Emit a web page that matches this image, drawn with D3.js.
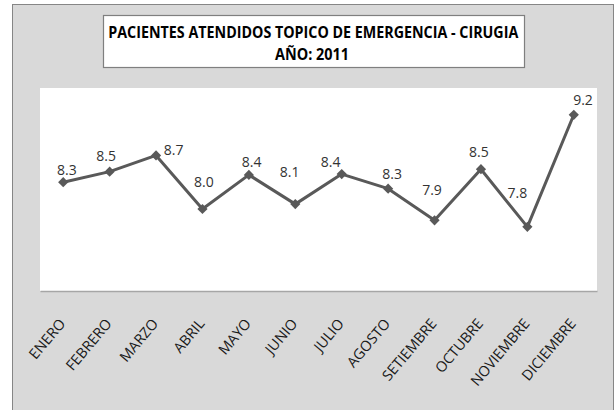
<!DOCTYPE html>
<html>
<head>
<meta charset="utf-8">
<script src="https://cdn.jsdelivr.net/npm/d3@7"></script>
<style>
  html, body { margin: 0; padding: 0; background: #ffffff; }
  svg { display: block; }
</style>
</head>
<body>
<svg id="chart" width="616" height="410"></svg>
<script>
// ---- data ----
const months = ["ENERO", "FEBRERO", "MARZO", "ABRIL", "MAYO", "JUNIO", "JULIO",
                "AGOSTO", "SETIEMBRE", "OCTUBRE", "NOVIEMBRE", "DICIEMBRE"];
const values = [8.34, 8.47, 8.67, 8.01, 8.43, 8.07, 8.44, 8.26, 7.87, 8.50, 7.79, 9.17];
const titleLines = ["PACIENTES ATENDIDOS TOPICO DE EMERGENCIA - CIRUGIA", "AÑO: 2011"];
const yDomain = [7, 9.5];

// ---- layout (label nudges, as placed in the original) ----
const labelDx = [3.6, -3.5, 17.6, 1.4, 2.7, -5.7, -11, 4, -2.5, -2, -10, 9.2];
const labelDy = [-7.3, -11, 0, -21.7, -7.7, -26.7, -7.3, -10, -25.7, -12.3, -28.4, -10];

const svg = d3.select("#chart");
const plot = { left: 40, right: 597, top: 88, bottom: 291 };

// outer chart area
svg.append("rect")
  .attr("x", 12.5).attr("y", 4.5)
  .attr("width", 601).attr("height", 430)
  .attr("fill", "#d9d9d9")
  .attr("stroke", "#868686").attr("stroke-width", 1);

// title box
svg.append("rect")
  .attr("x", 103.5).attr("y", 15.5)
  .attr("width", 421).attr("height", 52)
  .attr("fill", "#ffffff")
  .attr("stroke", "#7f7f7f").attr("stroke-width", 1.2);

const titleFont = "'Liberation Sans Narrow', 'Open Sans', sans-serif";
svg.append("text")
  .attr("x", 313.3).attr("y", 37.5)
  .attr("text-anchor", "middle")
  .attr("font-family", titleFont)
  .attr("font-weight", "bold")
  .attr("font-size", 16.5)
  .attr("fill", "#000")
  .attr("textLength", 410).attr("lengthAdjust", "spacingAndGlyphs")
  .text(titleLines[0]);
svg.append("text")
  .attr("x", 312).attr("y", 59.5)
  .attr("text-anchor", "middle")
  .attr("font-family", titleFont)
  .attr("font-weight", "bold")
  .attr("font-size", 16.5)
  .attr("fill", "#000")
  .attr("textLength", 74).attr("lengthAdjust", "spacingAndGlyphs")
  .text(titleLines[1]);

// plot area
svg.append("rect")
  .attr("x", plot.left).attr("y", plot.top)
  .attr("width", plot.right - plot.left).attr("height", plot.bottom - plot.top)
  .attr("fill", "#ffffff");

// scales
const x = d3.scaleBand().domain(months).range([plot.left, plot.right]).padding(0);
const y = d3.scaleLinear().domain(yDomain).range([plot.bottom, plot.top]);
const cx = d => x(d) + x.bandwidth() / 2;

// x axis
const xAxis = svg.append("g")
  .attr("transform", `translate(0,${plot.bottom})`)
  .call(d3.axisBottom(x).tickSize(0).tickSizeOuter(0));
xAxis.select(".domain")
  .attr("stroke", "#a6a6a6").attr("stroke-width", 1.5);
xAxis.selectAll(".tick text")
  .attr("font-family", "'Open Sans', sans-serif")
  .attr("font-size", 14.5)
  .attr("fill", "#1a1a1a")
  .attr("text-anchor", "end")
  .attr("x", 0).attr("y", 0).attr("dy", 0)
  .attr("transform", "translate(3,33) rotate(-50)");

// line
const pts = months.map((m, i) => ({ m, v: values[i], i }));
svg.append("path")
  .datum(pts)
  .attr("fill", "none")
  .attr("stroke", "#595959")
  .attr("stroke-width", 3)
  .attr("stroke-linejoin", "round")
  .attr("d", d3.line().x(d => cx(d.m)).y(d => y(d.v)));

// markers
svg.append("g").selectAll("path")
  .data(pts)
  .join("path")
  .attr("d", d3.symbol(d3.symbolSquare, 52))
  .attr("transform", d => `translate(${cx(d.m)},${y(d.v)}) rotate(45)`)
  .attr("fill", "#595959");

// data labels
svg.append("g").selectAll("text")
  .data(pts)
  .join("text")
  .attr("x", d => cx(d.m) + labelDx[d.i])
  .attr("y", d => y(d.v) + labelDy[d.i])
  .attr("text-anchor", "middle")
  .attr("font-family", "'Open Sans', sans-serif")
  .attr("font-size", 14)
  .attr("fill", "#333333")
  .text(d => d.v.toFixed(1));
</script>
</body>
</html>
